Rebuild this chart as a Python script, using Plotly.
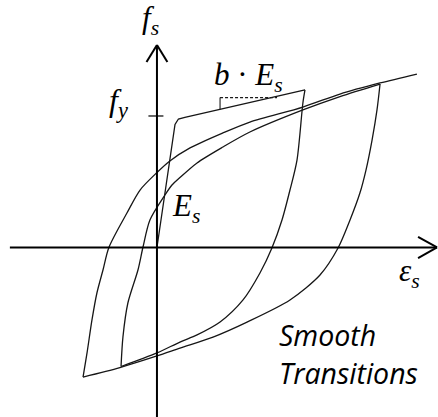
import plotly.graph_objects as go

# Normalised steel response: strain in units of yield strain, stress in units of f_y
# Monotonic loading: elastic branch, rounded yield, linear hardening (b*Es)
mono_eps = [0.0, 0.95, 1.13, 1.47, 7.79]
mono_sig = [0.0, 0.935, 0.977, 0.989, 1.198]

# First unloading from the first tensile peak down to the compression reversal
unl1_eps = [7.79, 7.68, 7.37, 7.00, 6.58, 6.05, 5.42, 4.53, 3.32, 2.11, 1.21, 0.0, -1.89]
unl1_sig = [1.198, 1.099, 0.665, 0.437, 0.209, -0.004, -0.194, -0.399, -0.567, -0.665, -0.719, -0.802, -0.905]

# Reloading from the first compression reversal up to the second tensile peak
rel1_eps = [-1.89, -1.79, -1.53, -1.00, -0.74, -0.37, 0.42, 0.79, 1.21, 2.11, 3.47, 4.89, 7.68, 9.63, 11.74]
rel1_sig = [-0.905, -0.681, -0.422, -0.171, 0.0, 0.209, 0.399, 0.475, 0.532, 0.643, 0.764, 0.878, 1.046, 1.148, 1.243]

# Second unloading to the larger compression reversal
unl2_eps = [11.74, 11.58, 11.32, 11.00, 10.68, 10.16, 9.53, 8.58, 7.00, 4.74, 2.95, 1.21, 0.0, -1.95, -3.89]
unl2_sig = [1.243, 1.046, 0.817, 0.589, 0.414, 0.209, -0.004, -0.209, -0.399, -0.567, -0.681, -0.765, -0.825, -0.913, -0.985]

# Final reloading, continuing along the hardening asymptote
rel2_eps = [-3.89, -3.68, -3.42, -3.16, -2.84, -2.53, -1.58, -0.89, 0.0, 0.68, 1.74, 3.47, 4.89, 7.68, 9.63, 11.74, 13.68]
rel2_sig = [-0.985, -0.802, -0.551, -0.346, -0.171, 0.0, 0.262, 0.437, 0.570, 0.658, 0.757, 0.871, 0.954, 1.068, 1.167, 1.251, 1.319]

# Axis extents (normalised units)
X_MIN, X_MAX = -8.26, 14.79
Y_MIN, Y_MAX = -1.289, 1.882

CURVE = dict(color="#161616", width=1.3)
AXIS = dict(color="black", width=2)

fig = go.Figure()

fig.add_trace(go.Scatter(x=mono_eps, y=mono_sig, mode="lines", line=CURVE))
for ex, sy in [(unl1_eps, unl1_sig), (rel1_eps, rel1_sig),
               (unl2_eps, unl2_sig), (rel2_eps, rel2_sig)]:
    fig.add_trace(go.Scatter(x=ex, y=sy, mode="lines",
                             line=dict(shape="spline", smoothing=0.8, **CURVE)))

shapes = [
    # strain axis with open arrow head
    dict(type="line", x0=-7.74, y0=0, x1=14.74, y1=0, line=AXIS),
    dict(type="line", x0=13.74, y0=0.080, x1=14.74, y1=0, line=AXIS),
    dict(type="line", x0=13.74, y0=-0.080, x1=14.74, y1=0, line=AXIS),
    # stress axis with open arrow head
    dict(type="line", x0=0, y0=Y_MIN, x1=0, y1=1.54, line=AXIS),
    dict(type="line", x0=-0.55, y0=1.41, x1=0, y1=1.54, line=AXIS),
    dict(type="line", x0=0.55, y0=1.41, x1=0, y1=1.54, line=AXIS),
    # yield stress tick
    dict(type="line", x0=-0.45, y0=1.0, x1=0.34, y1=1.0, line=dict(color="black", width=1.2)),
    # hardening slope marker
    dict(type="line", x0=3.32, y0=1.14, x1=6.32, y1=1.14,
         line=dict(color="#1a1a1a", width=1.1, dash="3px,2px")),
    dict(type="line", x0=3.32, y0=1.14, x1=3.32, y1=1.05, line=dict(color="#1a1a1a", width=1.1)),
]

SERIF = "Liberation Serif, Times New Roman, serif"
SANS = "Open Sans, Liberation Sans, sans-serif"


def label(text, x, y, size, family, xanchor="left"):
    return dict(text=text, x=x, y=y, xref="paper", yref="paper",
                xanchor=xanchor, yanchor="middle", showarrow=False,
                font=dict(family=family, size=size, color="black"))


annotations = [
    label("<i>f</i><sub><i>s</i></sub>", 140 / 438, 1 - 20 / 417, 31, SERIF),
    label("<i>f</i><sub><i>y</i></sub>", 107 / 438, 1 - 102 / 417, 32, SERIF),
    label("<i>b</i> · <i>E</i><sub><i>s</i></sub>", 212 / 438, 1 - 77 / 417, 31, SERIF),
    label("<i>E</i><sub><i>s</i></sub>", 170 / 438, 1 - 208 / 417, 31, SERIF),
    label("<i>ε</i><sub><i>s</i></sub>", 397 / 438, 1 - 273 / 417, 31, SERIF),
    label("<i>Smooth</i>", 277 / 438, 1 - 335 / 417, 28.5, SANS),
    label("<i>Transitions</i>", 277 / 438, 1 - 373 / 417, 28.5, SANS),
]

fig.update_layout(
    width=438, height=417,
    margin=dict(l=0, r=0, t=0, b=0),
    paper_bgcolor="white", plot_bgcolor="white",
    showlegend=False,
    xaxis=dict(range=[X_MIN, X_MAX], visible=False, fixedrange=True),
    yaxis=dict(range=[Y_MIN, Y_MAX], visible=False, fixedrange=True),
    shapes=shapes,
    annotations=annotations,
)

fig.write_html("out.html", config={"displayModeBar": False})
